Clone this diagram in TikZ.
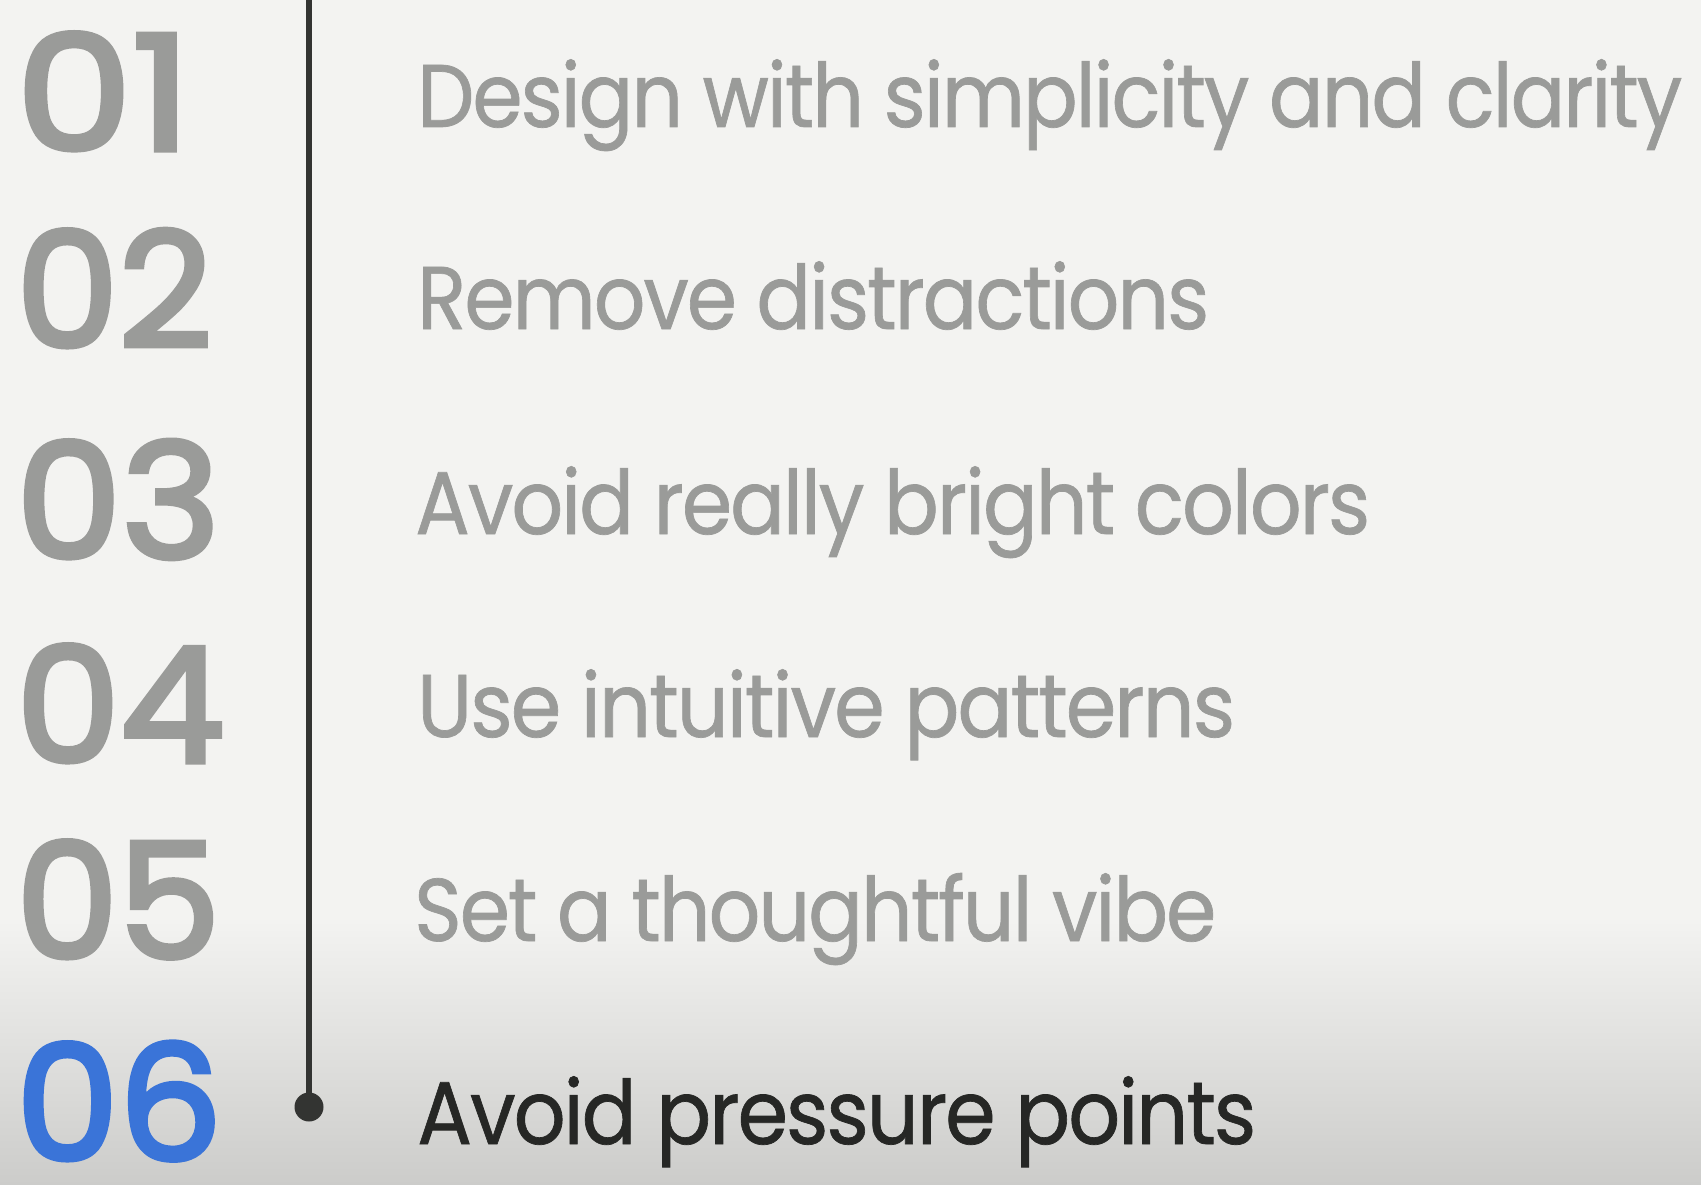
\documentclass[tikz,border=0pt]{standalone}
\usepackage{fontspec}
\setmainfont{Poppins}
\newfontfamily\numfont{Poppins}[FakeBold=3.2]
\newfontfamily\txtfont{Poppins}[LetterSpace=-2.5,FakeBold=0.8]
\usepackage{graphicx}
\definecolor{bgtop}{HTML}{F3F3F1}
\definecolor{bgbot}{HTML}{CCCCCA}
\definecolor{greytxt}{HTML}{9A9B99}
\definecolor{bluenum}{HTML}{3A74D8}
\definecolor{darktxt}{HTML}{262725}
\definecolor{linecol}{HTML}{333432}
\begin{document}
\begin{tikzpicture}[x=1pt,y=-1pt,
  txt/.style={inner sep=0pt, anchor=base west, text=greytxt, font=\txtfont\fontsize{89}{97}\selectfont},
  num/.style={inner sep=0pt, anchor=base west, text depth=0pt, text=greytxt, font=\numfont\fontsize{160}{170}\selectfont},
  activetxt/.style={txt, text=darktxt},
  activenum/.style={num, text=bluenum},
  timeline/.style={draw=linecol, line width=5.5pt},
  dotnode/.style={circle, fill=linecol, inner sep=0pt, minimum size=29pt}]
\useasboundingbox (0,0) rectangle (1701,1185);
\fill[bgtop] (0,0) rectangle (1701,1185);
\shade[top color=bgtop, bottom color=bgbot] (0,920) rectangle (1701,1185);

\coordinate (ltop) at (309,0);
\node[dotnode] (dot) at (309,1107) {};
\draw[timeline] (ltop) -- (dot.center);

\node[num] (n1) at (16,150) {\resizebox{175pt}{\height}{01}};
\node[num] (n2) at (16,347) {\resizebox{196pt}{\height}{02}};
\node[num] (n3) at (16,558) {\resizebox{204pt}{\height}{03}};
\node[num] (n4) at (16,762) {\resizebox{208pt}{\height}{04}};
\node[num] (n5) at (16,958) {\resizebox{204pt}{\height}{05}};
\node[activenum] (n6) at (16,1160) {\resizebox{206pt}{\height}{06}};

\node[txt] (t1) at (417,127) {\resizebox{1265pt}{\height}{Design with simplicity and clarity}};
\node[txt] (t2) at (417,329) {\resizebox{792pt}{\height}{Remove distractions}};
\node[txt] (t3) at (415,534) {\resizebox{955pt}{\height}{Avoid really bright colors}};
\node[txt] (t4) at (417,737) {\resizebox{818pt}{\height}{Use intuitive patterns}};
\node[txt] (t5) at (414,941) {\resizebox{802pt}{\height}{Set a thoughtful vibe}};
\node[activetxt] (t6) at (417,1144) {\resizebox{839pt}{\height}{Avoid pressure points}};
\end{tikzpicture}
\end{document}
